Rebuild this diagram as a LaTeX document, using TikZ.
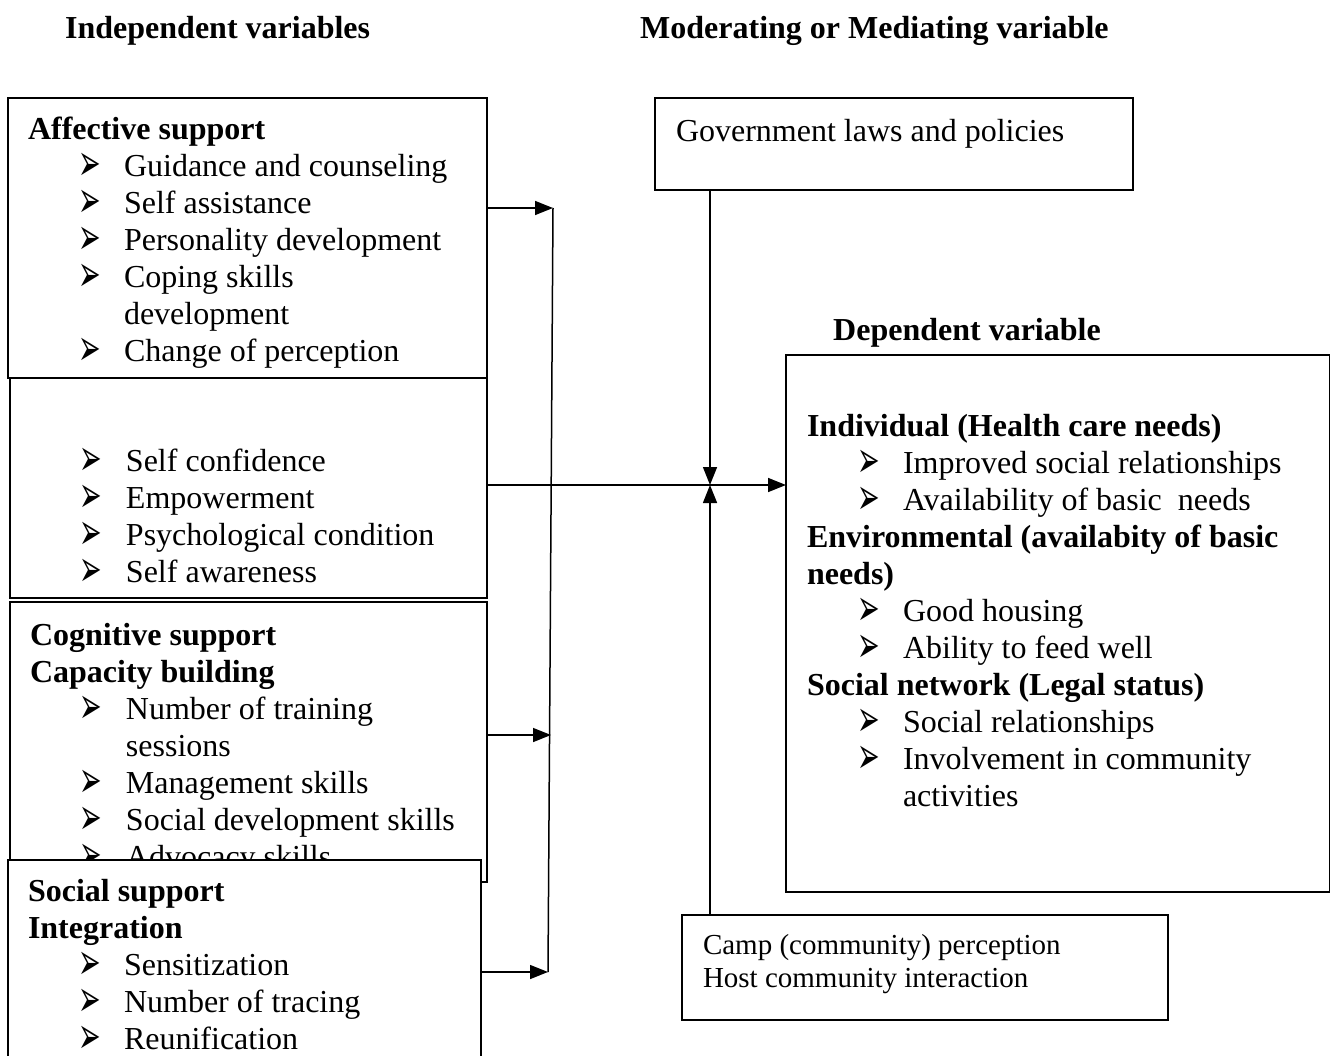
\documentclass[tikz,border=0pt]{standalone}
\usepackage{fontspec}
\usepackage{graphicx}
\setmainfont{Liberation Serif}
\newfontfamily\dejavu{DejaVu Sans}
\usetikzlibrary{arrows.meta}
\newcommand{\arr}{\smash{\raisebox{-4pt}{\scalebox{1}[1.9]{\dejavu\fontsize{27}{27}\selectfont ➢}}}}
\newcommand{\itm}[1]{\hspace*{50pt}\makebox[46pt][l]{\arr}#1}
\newcommand{\cnt}[1]{\hspace*{96pt}#1}
\begin{document}
\begin{tikzpicture}[x=1pt,y=-1pt,
  box/.style={draw,line width=1.5pt,fill=white,inner sep=0pt,outer sep=0pt,anchor=north west},
  txt/.style={anchor=north west,inner sep=0pt,outer sep=0pt,align=left,font=\fontsize{32}{37}\selectfont},
  smalltxt/.style={anchor=north west,inner sep=0pt,outer sep=0pt,align=left,font=\fontsize{29}{33}\selectfont},
  head/.style={anchor=base west,inner sep=0pt,font=\fontsize{32}{37}\selectfont\bfseries},
  conn/.style={line width=1.5pt},
  arrowc/.style={line width=1.5pt,-{Triangle[length=18pt,width=14pt]}}]
\useasboundingbox (0,0) rectangle (1330,1056);
\clip (0,0) rectangle (1330,1056);

% headings
\node[head] (h1) at (65,39) {Independent variables};
\node[head] (h2) at (640,39) {Moderating or Mediating variable};
\node[head] (h3) at (833,341) {Dependent variable};

% Affective support box
\node[box,minimum width=479pt,minimum height=280pt] (aff) at (8,98) {};
\node[txt] (afft) at (28,114) {\strut\textbf{Affective support}\\
\itm{Guidance and counseling}\\
\itm{Self assistance}\\
\itm{Personality development}\\
\itm{Coping skills}\\
\cnt{development}\\
\itm{Change of perception}};

% second box
\node[box,minimum width=477pt,minimum height=220pt] (conf) at (10,378) {};
\node[txt] (conft) at (30,446) {\strut\itm{Self confidence}\\
\itm{Empowerment}\\
\itm{Psychological condition}\\
\itm{Self awareness}};

% Cognitive support box
\node[box,minimum width=477pt,minimum height=280pt] (cog) at (10,602) {};
\node[txt] (cogt) at (30,620) {\strut\textbf{Cognitive support}\\
\textbf{Capacity building}\\
\itm{Number of training}\\
\cnt{sessions}\\
\itm{Management skills}\\
\itm{Social development skills}\\
\itm{Advocacy skills}};

% Social support box (covers the end of the cognitive box)
\node[box,minimum width=473pt,minimum height=220pt] (soc) at (8,860) {};
\node[txt] (soct) at (28,876) {\strut\textbf{Social support}\\
\textbf{Integration}\\
\itm{Sensitization}\\
\itm{Number of tracing}\\
\itm{Reunification}};

% Government box
\node[box,minimum width=478pt,minimum height=92pt] (gov) at (655,98) {};
\node[txt] (govt) at (676,116) {\strut Government laws and policies};

% Dependent box
\node[box,minimum width=544pt,minimum height=537pt] (dep) at (786,355) {};
\node[txt] (dept) at (807,411) {\strut\textbf{Individual (Health care needs)}\\
\itm{Improved social relationships}\\
\itm{Availability of basic\ \ needs}\\
\textbf{Environmental (availabity of basic}\\
\textbf{needs)}\\
\itm{Good housing}\\
\itm{Ability to feed well}\\
\textbf{Social network (Legal status)}\\
\itm{Social relationships}\\
\itm{Involvement in community}\\
\cnt{activities}};

% Camp box
\node[box,minimum width=486pt,minimum height=105pt] (camp) at (682,915) {};
\node[smalltxt] (campt) at (703,931) {\strut Camp (community) perception\\
Host community interaction};

% connectors
\coordinate (c1) at (553,208);
\coordinate (c2) at (551,735);
\coordinate (c3) at (548,972);
\coordinate (x) at (710,485);

\draw[arrowc] (aff.east |- c1) -- (c1);
\draw[arrowc] (cog.east |- c2) -- (c2);
\draw[arrowc] (soc.east |- c3) -- (c3);
\draw[conn] (c1) -- (c3);

\draw[arrowc] (conf.east |- x) -- (dep.west |- x);
\draw[arrowc] (gov.south -| x) -- (x);
\draw[arrowc] (camp.north -| x) -- (x);
\end{tikzpicture}
\end{document}
